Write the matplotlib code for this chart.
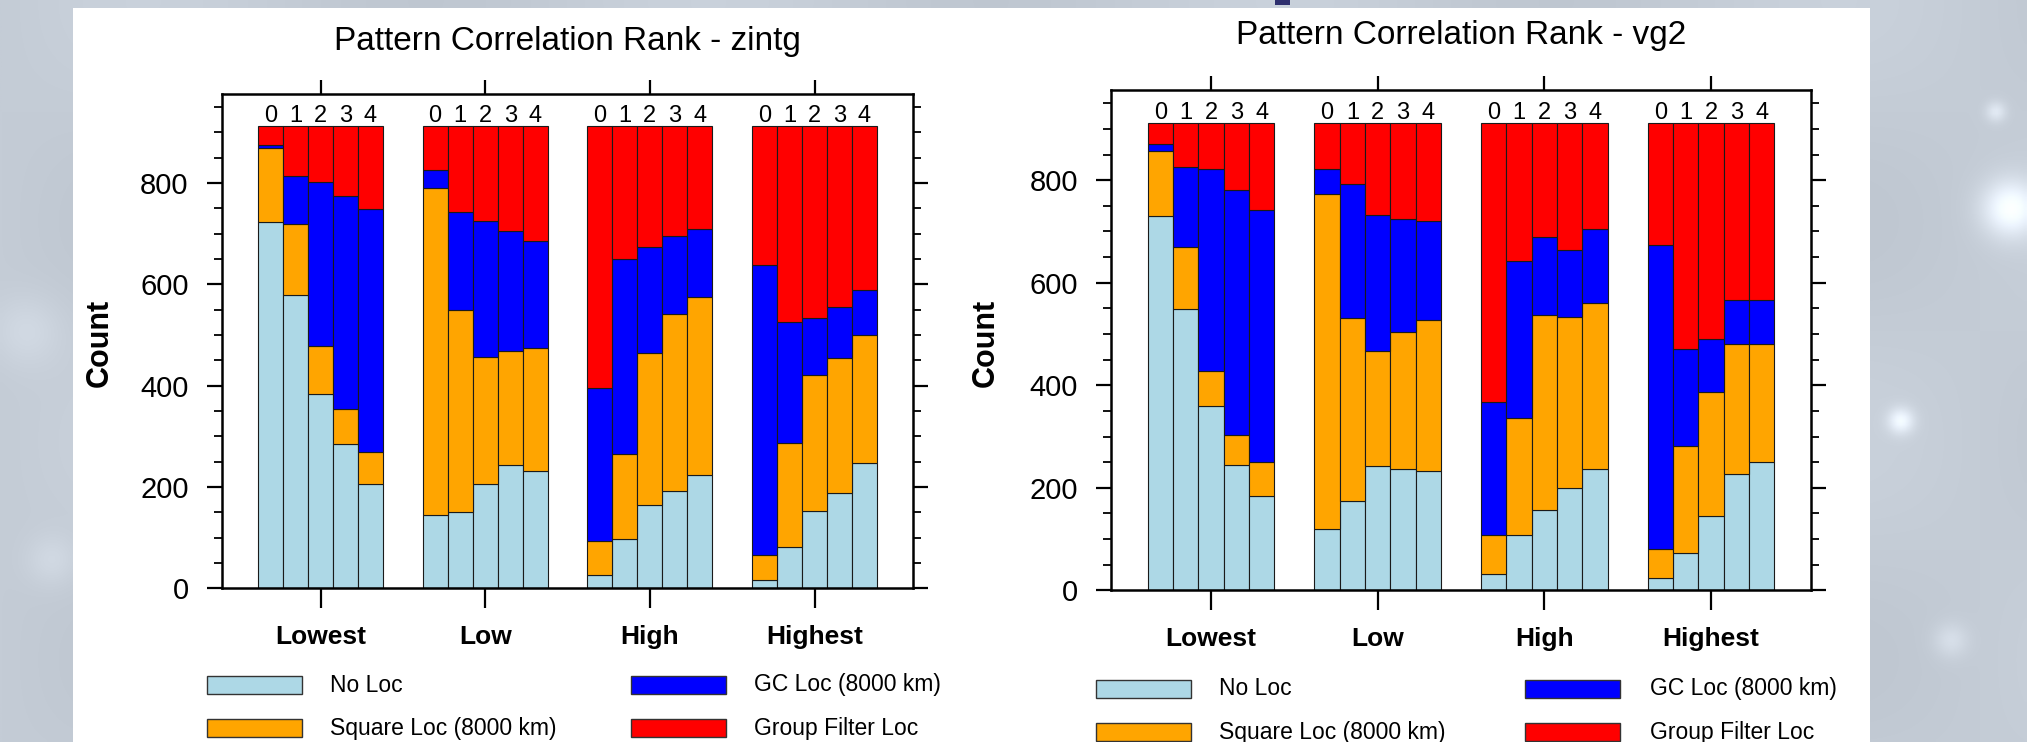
import matplotlib
matplotlib.use("Agg")
import matplotlib.pyplot as plt
import numpy as np
from matplotlib.patches import Rectangle
from matplotlib.ticker import MultipleLocator

plt.rcParams['font.family'] = ['Liberation Sans', 'DejaVu Sans']

# ---------------- data ----------------
groups = ['Lowest', 'Low', 'High', 'Highest']
members = ['0', '1', '2', '3', '4']
series_names = ['No Loc', 'Square Loc (8000 km)', 'GC Loc (8000 km)', 'Group Filter Loc']
series_colors = ['#add8e6', '#ffa500', '#0000ff', '#ff0000']

# Panel 1: zintg  (rows = rank group, cols = member 0..4)
zintg_noloc  = [[723, 578, 384, 284, 206], [144, 151, 205, 244, 232], [26, 98, 165, 192, 224], [16, 82, 153, 189, 247]]
zintg_square = [[146, 140, 94, 69, 63],    [646, 399, 251, 225, 243], [68, 168, 300, 350, 350], [50, 204, 268, 266, 253]]
zintg_gc     = [[5, 96, 324, 422, 479],    [35, 192, 268, 237, 210],  [301, 384, 209, 154, 135], [572, 240, 113, 100, 89]]
zintg_group  = [[38, 98, 110, 137, 164],   [87, 170, 188, 206, 227],  [517, 262, 238, 216, 203], [274, 386, 378, 357, 323]]

# Panel 2: vg2
vg2_noloc  = [[731, 548, 360, 244, 184], [119, 175, 242, 236, 232], [31, 107, 157, 199, 236], [24, 73, 144, 226, 251]]
vg2_square = [[126, 121, 68, 58, 67],    [655, 357, 224, 267, 295], [76, 229, 380, 334, 324], [56, 208, 242, 254, 229]]
vg2_gc     = [[14, 157, 393, 478, 491],  [48, 261, 267, 222, 193],  [260, 307, 153, 131, 144], [594, 190, 105, 87, 87]]
vg2_group  = [[41, 86, 91, 132, 170],    [90, 119, 179, 187, 192],  [545, 269, 222, 248, 208], [238, 441, 421, 345, 345]]

panels = [
    ("Pattern Correlation Rank - zintg", [zintg_noloc, zintg_square, zintg_gc, zintg_group]),
    ("Pattern Correlation Rank - vg2", [vg2_noloc, vg2_square, vg2_gc, vg2_group]),
]

# ---------------- figure ----------------
W, H = 2027, 742
fig = plt.figure(figsize=(W / 100, H / 100), dpi=100)
fig.patch.set_facecolor('#c4ccd6')


def fx(x):
    return x / W


def fy(y):
    return 1 - y / H


# background (soft bluish-grey with a few faint glows)
bg = fig.add_axes([0, 0, 1, 1], zorder=-10)
gy, gx = np.mgrid[0:H:4, 0:W:4]
base = np.array([196, 204, 214]) / 255.0
img = np.ones(gx.shape + (3,)) * base
shade = 0.02 * np.sin(gx / 90.0) * np.cos(gy / 70.0)
img = img + shade[..., None]
for (cx, cy, r, a) in [(2010, 207, 20, 0.22), (1900, 420, 9, 0.18), (1995, 110, 7, 0.12),
                       (25, 330, 25, 0.05), (1950, 640, 12, 0.08), (50, 560, 18, 0.05)]:
    g = a * np.exp(-((gx - cx) ** 2 + (gy - cy) ** 2) / (2 * r ** 2))
    img = img + g[..., None]
img = np.clip(img, 0, 1)
bg.imshow(img, extent=[0, W, H, 0], aspect='auto', interpolation='bilinear')
bg.add_patch(Rectangle((73, 7.7), 1870 - 73, H - 7.7, facecolor='white', edgecolor='none'))
bg.add_patch(Rectangle((1275, 0), 15, 5, facecolor='#2e2f6e', edgecolor='none'))
bg.set_xlim(0, W)
bg.set_ylim(H, 0)
bg.axis('off')

axes_px = [(221.7, 93.7, 913.3, 588.3), (1111, 90, 1811, 590.3)]
title_px = [(567, 50), (1461, 44)]
count_px = [(100, 343), (986, 343)]

bar_w = 0.152
group_pos = np.arange(1, len(groups) + 1)

for (title, data), (x0, y0, x1, y1), (tx, ty), (cx, cy) in zip(panels, axes_px, title_px, count_px):
    ax = fig.add_axes([fx(x0), fy(y1), (x1 - x0) / W, (y1 - y0) / H])
    bottoms = np.zeros((len(groups), len(members)))
    for s_idx, sdata in enumerate(data):
        vals = np.array(sdata, dtype=float)
        for g in range(len(groups)):
            xs = group_pos[g] + (np.arange(len(members)) - 2) * bar_w
            ax.bar(xs, vals[g], bar_w, bottom=bottoms[g], color=series_colors[s_idx],
                   edgecolor='#1a1a1a', linewidth=0.8, zorder=2)
        bottoms += vals
    for g in range(len(groups)):
        xs = group_pos[g] + (np.arange(len(members)) - 2) * bar_w
        for m, xm in enumerate(xs):
            ax.text(xm, bottoms[g, m] + 8, members[m], ha='center', va='baseline', fontsize=17)

    ax.set_xlim(0.4, 4.6)
    ax.set_ylim(0, 976)
    ax.set_xticks(group_pos)
    ax.set_xticklabels(groups, fontsize=19, fontweight='bold')
    ax.set_yticks([0, 200, 400, 600, 800])
    ax.yaxis.set_minor_locator(MultipleLocator(50))
    ax.tick_params(axis='y', which='major', direction='out', length=10.8, width=1.6,
                   labelsize=21, pad=13, left=True, right=True)
    ax.tick_params(axis='y', which='minor', direction='out', length=5.8, width=1.3,
                   left=True, right=True)
    ax.tick_params(axis='x', which='major', direction='out', length=14.4, width=1.6,
                   pad=12, top=True, bottom=True, labeltop=False)
    for t in ax.xaxis.get_major_ticks():
        t.tick2line.set_markersize(10)
    for sp in ax.spines.values():
        sp.set_linewidth(1.8)

    fig.text(fx(tx), fy(ty), title, ha='center', va='baseline', fontsize=24)
    fig.text(fx(cx), fy(cy), 'Count', ha='center', va='center', rotation=90,
             fontsize=22, fontweight='bold')

# ---------------- legends ----------------
legend_layouts = [
    ((207, 631), (330, 754), (685, 728)),
    ((1096, 1525), (1219, 1650), (688.5, 732)),
]
box_w, box_h = 95, 18
for (bx, tx, rows) in legend_layouts:
    order = [(0, 0), (0, 1), (1, 0), (1, 1)]  # (col,row) for each series
    for s_idx, (c, r) in enumerate(order):
        yc = rows[r]
        fig.patches.append(Rectangle((fx(bx[c]), fy(yc + box_h / 2)), box_w / W, box_h / H,
                                     transform=fig.transFigure, facecolor=series_colors[s_idx],
                                     edgecolor='#333333', linewidth=1.0, zorder=5))
        fig.text(fx(tx[c]), fy(yc), series_names[s_idx], ha='left', va='center', fontsize=16.5)

fig.savefig('out.png', dpi=100, facecolor=fig.get_facecolor())
